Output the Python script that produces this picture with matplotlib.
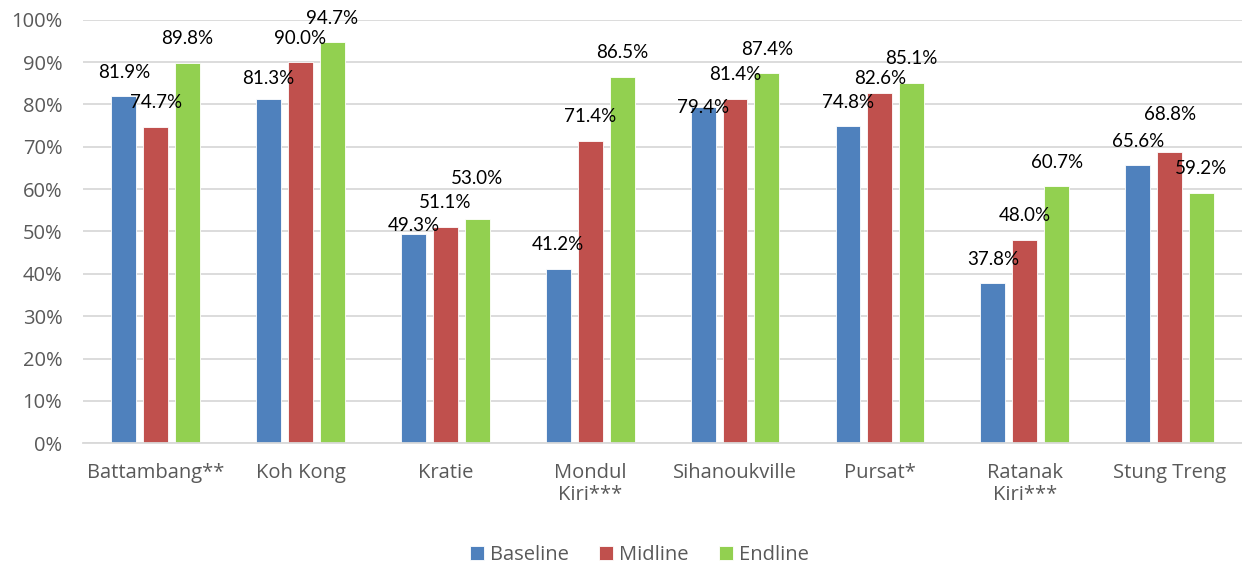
import numpy as np
import matplotlib.pyplot as plt

plt.rcParams['font.family'] = ['Open Sans', 'DejaVu Sans']

provinces = ['Battambang**', 'Koh Kong', 'Kratie', 'Mondul\nKiri***', 'Sihanoukville',
             'Pursat*', 'Ratanak\nKiri***', 'Stung Treng']
baseline = [81.9, 81.3, 49.3, 41.2, 79.4, 74.8, 37.8, 65.6]
midline = [74.7, 90.0, 51.1, 71.4, 81.4, 82.6, 48.0, 68.8]
endline = [89.8, 94.7, 53.0, 86.5, 87.4, 85.1, 60.7, 59.2]

series = [('Baseline', baseline, '#4F81BD'),
          ('Midline', midline, '#C0504D'),
          ('Endline', endline, '#92D050')]

# data labels sit ~24 px above the bar top; a few were moved by hand in the original
label_shift = {(0, 1): 20, (0, 2): 9, (2, 2): 40, (0, 4): 0, (1, 5): 15, (1, 7): 37}

ind = np.arange(len(provinces))  # the x locations for the groups
width = 0.172  # the width of the bars
step = 0.22

fig = plt.figure(figsize=(12.42, 5.66), dpi=100)
ax = fig.add_axes([0.067, 0.217, 0.933, 0.748])

for i, (name, vals, color) in enumerate(series):
    rects = ax.bar(ind + (i - 1) * step, vals, width, color=color, label=name,
                   edgecolor='white', linewidth=0.6, zorder=2)
    for j, (rect, v) in enumerate(zip(rects, vals)):
        dy = label_shift.get((i, j), 24) * 0.72
        ax.annotate('{:.1f}%'.format(v), (rect.get_x() + rect.get_width() / 2, v),
                    xytext=(0, dy), textcoords='offset points',
                    ha='center', va='center', fontsize=13.5, color='black',
                    family=['Lato', 'DejaVu Sans'])

ax.set_xlim(-0.5, len(provinces) - 0.5)
ax.set_ylim(0, 100)
ax.set_yticks(np.arange(0, 101, 10))
ax.set_yticklabels(['{}%'.format(t) for t in range(0, 101, 10)])
ax.set_xticks(ind)
ax.set_xticklabels(provinces, linespacing=1.15)
ax.tick_params(axis='both', length=0, labelsize=14.5, labelcolor='#595959')
ax.tick_params(axis='y', pad=15)
ax.tick_params(axis='x', pad=14)
ax.yaxis.grid(True, color='#D9D9D9', linewidth=1.3, zorder=0)
for s in ['top', 'right', 'left']:
    ax.spines[s].set_visible(False)
ax.spines['bottom'].set_color('#D9D9D9')
ax.spines['bottom'].set_linewidth(1.3)

fig.legend(loc='lower center', bbox_to_anchor=(0.515, -0.03), ncol=3, frameon=False,
           fontsize=14.5, labelcolor='#595959', handlelength=0.7, handleheight=0.7,
           handletextpad=0.3, columnspacing=1.5)

fig.savefig('out.png', dpi=100)
